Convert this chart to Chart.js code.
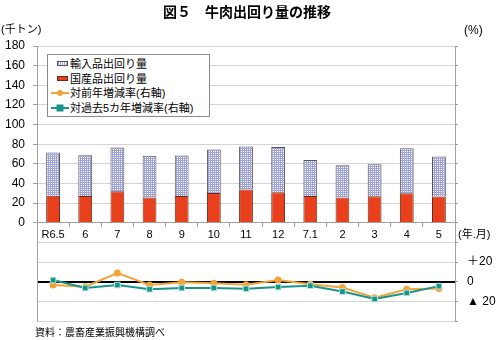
<!DOCTYPE html>
<html lang="ja">
<head>
  <meta charset="UTF-8">
  <title>牛肉出回り量の推移</title>
  <style>
    body {
      margin: 0;
      background: #ffffff;
      font-family: "Liberation Sans", "Noto Sans CJK JP", sans-serif;
      color: #000;
    }
    #wrap { position: relative; width: 500px; height: 340px; }
    canvas { position: absolute; left: 0; top: 0; }
    .txt { position: absolute; white-space: nowrap; font-size: 11px; line-height: 1; }
    #title { left: 0; width: 494px; top: 5px; text-align: center; font-size: 14px; font-weight: bold; }
    #legend {
      position: absolute; left: 47px; top: 54px; width: 163px; height: 63px;
      border: 1px solid #8a8a8a; background: #fff; box-sizing: border-box;
    }
    .row { position: absolute; left: 0; height: 12px; font-size: 11px; line-height: 12px; white-space: nowrap; }
    .row span.t { position: absolute; left: 22px; top: 0; }
    .sw { position: absolute; left: 9px; top: 3px; width: 11px; height: 5px; box-sizing: border-box; }
    .imp {
      border: 1px solid #555;
      background-color: #9ea2de;
      background-image: linear-gradient(90deg, transparent 1px, #ffffff 1px),
                        linear-gradient(#9ea2de 1px, transparent 1px);
      background-size: 2px 2px;
    }
    .dom { border: 1px solid #6b2a1a; background: #e8401c; }
    .row svg { position: absolute; left: 2px; top: 2px; }
  </style>
  <script src="https://cdn.jsdelivr.net/npm/chart.js"></script>
</head>
<body>
  <div id="wrap">
    <canvas id="chart" width="500" height="340"></canvas>
    <div id="title" class="txt">図５　牛肉出回り量の推移</div>
    <div class="txt" style="left:1px; top:24px; font-size:11px;">(千トン)</div>
    <div class="txt" style="left:464px; top:24px; font-size:12px;">(%)</div>
    <div class="txt" style="left:458px; top:229px; font-size:11px;">(年.月)</div>
    <div class="txt" style="left:35px; top:328px; font-size:10px;">資料：農畜産業振興機構調べ</div>
    <div id="legend">
      <div class="row" style="top:3px;"><i class="sw imp"></i><span class="t">輸入品出回り量</span></div>
      <div class="row" style="top:18px;"><i class="sw dom"></i><span class="t">国産品出回り量</span></div>
      <div class="row" style="top:32px;">
        <svg width="20" height="8"><line x1="1" y1="4" x2="19" y2="4" stroke="#f2a33a" stroke-width="2"/><circle cx="10" cy="4" r="3" fill="#f2a33a"/></svg>
        <span class="t">対前年増減率(右軸)</span></div>
      <div class="row" style="top:47px;">
        <svg width="20" height="8"><line x1="1" y1="4" x2="19" y2="4" stroke="#17958a" stroke-width="2"/><rect x="6.5" y="0.5" width="7" height="7" fill="#17958a"/></svg>
        <span class="t">対過去5カ年増減率(右軸)</span></div>
    </div>
  </div>

  <script>
    // values
    const months = ['R6.5', '6', '7', '8', '9', '10', '11', '12', '7.1', '2', '3', '4', '5'];
    const domestic = [27.5, 27.3, 32.0, 25.7, 27.3, 30.4, 34.0, 31.0, 27.3, 25.7, 27.0, 30.0, 26.7];
    const imported = [44.0, 41.5, 44.6, 42.6, 41.3, 44.1, 43.8, 46.2, 36.7, 32.8, 32.5, 45.8, 40.7];
    const yoyRate = [-3.4, -5.0, 8.8, -3.4, -0.5, -1.5, -3.0, 1.7, -2.5, -6.0, -16.3, -7.7, -6.8];
    const fiveYearRate = [1.7, -6.4, -3.4, -7.7, -6.4, -6.4, -7.2, -5.4, -4.0, -10.0, -17.6, -11.4, -4.5];

    const leftTicks = { min: -100, max: 180, step: 20 };
    const rightTicks = { min: -40, max: 240, step: 20 };

    Chart.defaults.font.family = '"Liberation Sans", "Noto Sans CJK JP", sans-serif';
    Chart.defaults.color = '#000';

    const ctx = document.getElementById('chart').getContext('2d');

    // small blue/white grid used for the imported bars
    function makePattern() {
      const c = document.createElement('canvas');
      c.width = 2; c.height = 2;
      const g = c.getContext('2d');
      g.fillStyle = '#9ea2de';
      g.fillRect(0, 0, 2, 2);
      g.fillStyle = '#ffffff';
      g.fillRect(1, 1, 1, 1);
      return ctx.createPattern(c, 'repeat');
    }

    new Chart(ctx, {
      type: 'bar',
      data: {
        labels: months,
        datasets: [
          {
            type: 'line', label: '対過去5カ年増減率(右軸)', data: fiveYearRate, yAxisID: 'y2',
            borderColor: '#17958a', backgroundColor: '#17958a', pointBorderColor: '#bfe3de',
            pointStyle: 'rect', pointRadius: 4, pointBorderWidth: 1, borderWidth: 2, order: 0
          },
          {
            type: 'line', label: '対前年増減率(右軸)', data: yoyRate, yAxisID: 'y2',
            borderColor: '#f2a33a', backgroundColor: '#f2a33a',
            pointRadius: 3.5, pointBorderWidth: 0, borderWidth: 2, order: 1
          },
          {
            label: '国産品出回り量', data: domestic,
            backgroundColor: '#e8401c', borderColor: '#6b2a1a', borderWidth: 1,
            barPercentage: 0.43, categoryPercentage: 1, order: 2
          },
          {
            label: '輸入品出回り量', data: imported,
            backgroundColor: makePattern(), borderColor: '#555', borderWidth: 1,
            barPercentage: 0.43, categoryPercentage: 1, order: 2
          }
        ]
      },
      options: {
        responsive: false,
        animation: false,
        layout: { padding: { top: 46, bottom: 19, left: 0, right: 0 } },
        plugins: { legend: { display: false }, tooltip: { enabled: false } },
        scales: {
          x: {
            position: { y: 0 },
            stacked: true,
            grid: { drawOnChartArea: false, tickLength: 4, color: '#a0a0a0', offset: true },
            border: { color: '#a0a0a0' },
            ticks: { font: { size: 11 }, padding: 2, maxRotation: 0, autoSkip: false }
          },
          y: {
            stacked: true,
            min: leftTicks.min, max: leftTicks.max,
            ticks: {
              stepSize: leftTicks.step, font: { size: 12 }, padding: 8,
              callback: v => (v >= 0 ? v : '')
            },
            grid: {
              color: c => (c.tick.value === -60 ? '#000' : '#d4d4d4'),
              lineWidth: c => (c.tick.value === -60 ? 2 : 1),
              tickColor: c => (c.tick.value >= 0 ? '#a0a0a0' : 'rgba(0,0,0,0)'),
              tickLength: 4
            },
            border: { color: '#a0a0a0' },
            afterFit: s => { s.width = 37; }
          },
          y2: {
            position: 'right',
            min: rightTicks.min, max: rightTicks.max,
            ticks: {
              stepSize: rightTicks.step, font: { size: 12 }, padding: 9,
              callback: v => (v === 20 ? '＋20' : v === 0 ? '0' : v === -20 ? '▲ 20' : '')
            },
            grid: { drawOnChartArea: false, tickLength: 3, color: '#a0a0a0' },
            border: { color: '#a0a0a0' },
            afterFit: s => { s.width = 45; }
          }
        }
      }
    });
  </script>
</body>
</html>
